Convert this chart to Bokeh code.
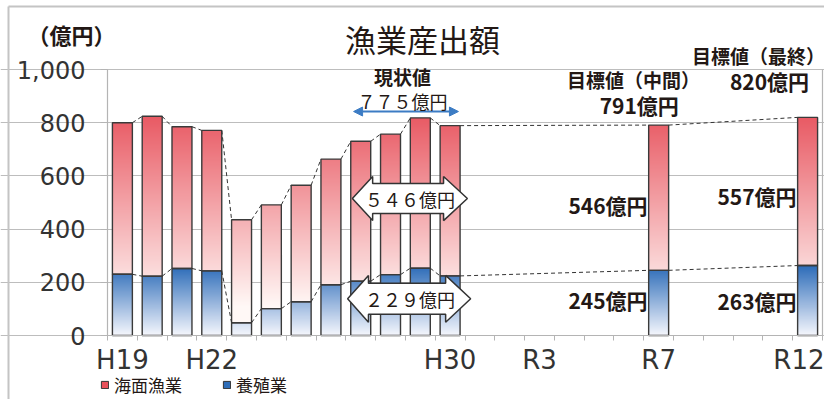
import numpy as np
from bokeh.plotting import figure
from bokeh.models import (Range1d, FixedTicker, NumeralTickFormatter, Label, Arrow,
                          NormalHead, Legend, LegendItem)
from bokeh.embed import file_html
from bokeh.resources import INLINE

# ---------------- data ----------------
categories = [f"H{n}" for n in range(19, 31)] + [f"R{n}" for n in range(1, 13)]
shown_labels = ["H19", "H22", "H30", "R3", "R7", "R12"]
bar_years = ["H19", "H20", "H21", "H22", "H23", "H24", "H25", "H26",
             "H27", "H28", "H29", "H30", "R7", "R12"]
aquaculture = [230, 223, 252, 243, 48, 101, 127, 191, 204, 229, 253, 224, 245, 263]   # 養殖業
marine      = [570, 601, 533, 528, 387, 390, 438, 472, 526, 528, 565, 565, 546, 557]   # 海面漁業
current_total, current_marine, current_aqua = 775, 546, 229
target_mid, target_final = 791, 820

FW = str.maketrans("0123456789", "０１２３４５６７８９")
def fw(n):
    return str(n).translate(FW)

JP = "Noto Sans CJK JP"
LAT = "'DejaVu Sans'"
TXT = "#231815"

RED_TOP = np.array([232, 88, 98])
RED_BOT = np.array([255, 248, 246])
BLUE_TOP = np.array([42, 106, 184])
BLUE_BOT = np.array([246, 247, 253])

def rgba_u32(c):
    c = np.clip(np.round(c), 0, 255).astype(np.uint32)
    return (255 << 24) | (c[2] << 16) | (c[1] << 8) | c[0]

def red_at(v):
    t = min(max((v - 110) / 720.0, 0), 1)
    return rgba_u32(RED_BOT + (RED_TOP - RED_BOT) * t)

def blue_at(v):
    t = min(max(v / 262.0, 0), 1)
    return rgba_u32(BLUE_BOT + (BLUE_TOP - BLUE_BOT) * t)

bw = 0.67
xpos = [categories.index(c) + 0.5 for c in bar_years]
totals = [a + m for a, m in zip(aquaculture, marine)]

# layout geometry (plot area: 715 x 266 px, left 107, bottom 335 in a 824 x 399 canvas)
W, H = 824, 399
FL, FB, FW_PX, FH_PX = 107, 335, 715, 266
n_cat = len(categories)
xs_px = FW_PX / n_cat
ys_px = FH_PX / 1000.0
x_range = Range1d(-FL / xs_px, (W - FL) / xs_px)
y_range = Range1d(-(H - FB) / ys_px, FB / ys_px)

p = figure(width=W, height=H, output_backend="svg", toolbar_location=None,
           x_range=x_range, y_range=y_range,
           min_border_left=0, min_border_right=0, min_border_top=0, min_border_bottom=0)
p.background_fill_color = "white"
p.border_fill_color = "white"
p.outline_line_color = None
p.xgrid.grid_line_color = None
p.ygrid.grid_line_color = "#bdbdbd"
p.ygrid.grid_line_width = 1.2
p.ygrid.bounds = (0, n_cat)

# gradient-filled bar segments (as images)
imgs, ix, iy, idh = [], [], [], []
for x, a, tot in zip(xpos, aquaculture, totals):
    for (y0, y1, fn) in [(0, a, blue_at), (a, tot, red_at)]:
        nrow = max(int(round(y1 - y0)), 2)
        col = np.array([fn(y0 + (y1 - y0) * (k + 0.5) / nrow) for k in range(nrow)],
                       dtype=np.uint32).reshape(nrow, 1)
        imgs.append(col); ix.append(x - bw / 2); iy.append(y0); idh.append(y1 - y0)
p.image_rgba(image=imgs, x=ix, y=iy, dw=[bw] * len(imgs), dh=idh)

p.vbar(x=xpos, width=bw, bottom=0, top=aquaculture, fill_color=None,
       line_color="#3a3a3a", line_width=1.4)
p.vbar(x=xpos, width=bw, bottom=aquaculture, top=totals, fill_color=None,
       line_color="#3a3a3a", line_width=1.4)

# frame right edge and outer box
p.segment(x0=[n_cat], y0=[0], x1=[n_cat], y1=[1000], line_color="#b4b4b4", line_width=1.2)
p.segment(x0=[x_range.start + 8 / xs_px, x_range.start + 8 / xs_px],
          y0=[y_range.start, y_range.end - 6 / ys_px],
          x1=[x_range.start + 8 / xs_px, x_range.end],
          y1=[y_range.end - 6 / ys_px, y_range.end - 6 / ys_px],
          line_color="#c4c4c4", line_width=2)

# dashed connectors
x0 = [xpos[i] + bw / 2 for i in range(len(xpos) - 1)]
x1 = [xpos[i + 1] - bw / 2 for i in range(len(xpos) - 1)]
for lv in (aquaculture, totals):
    p.segment(x0=x0, y0=lv[:-1], x1=x1, y1=lv[1:], line_color="#333333",
              line_width=1, line_dash="4 3")

# block double arrows
def block_arrow(xl, xhl, xhr, xr, yc, bh, hh):
    xs = [xl, xhl, xhl, xhr, xhr, xr, xhr, xhr, xhl, xhl]
    ys = [yc, yc + hh, yc + bh, yc + bh, yc + hh, yc, yc - hh, yc - bh, yc - bh, yc - hh]
    return xs, ys

xs, ys = block_arrow(8.22, 8.90, 11.28, 12.08, 515, 56, 83)
p.patch(xs, ys, fill_color="white", line_color="#333333", line_width=1.5)
xs, ys = block_arrow(8.06, 8.76, 11.35, 12.19, 138, 58, 88)
p.patch(xs, ys, fill_color="white", line_color="#333333", line_width=1.5)

def lab(x, y, text, size, align="center", bold=False, font=JP):
    p.add_layout(Label(x=x, y=y, text=text, text_font=font, text_font_size=f"{size}px",
                       text_align=align, text_baseline="middle", text_color=TXT,
                       text_font_style="bold" if bold else "normal"))

lab(10.15, 515, f"{fw(current_marine)}億円", 18)
lab(10.15, 138, f"{fw(current_aqua)}億円", 18)

# current value blue arrow
p.add_layout(Arrow(start=NormalHead(size=9, fill_color="#3c7cc4", line_color="#3c7cc4"),
                   end=NormalHead(size=9, fill_color="#3c7cc4", line_color="#3c7cc4"),
                   x_start=8.26, y_start=842, x_end=11.78, y_end=842,
                   line_color="#3c7cc4", line_width=2))

lab(10.57, 1116, "漁業産出額", 31)
lab(-1.21, 1132, "（億円）", 22, bold=True)
lab(9.9, 974, "現状値", 19, bold=True)
lab(9.9, 880, f"{fw(current_total)}億円", 18)
lab(17.66, 962, "目標値（中間）", 19, bold=True)
lab(17.85, 866, f"{target_mid}億円", 21, bold=True)
lab(21.85, 1053, "目標値（最終）", 19, bold=True)
lab(22.22, 957, f"{target_final}億円", 21, bold=True)
lab(18.13, 492, f"{marine[-2]}億円", 21, align="right", bold=True)
lab(18.13, 135, f"{aquaculture[-2]}億円", 21, align="right", bold=True)
lab(23.13, 523, f"{marine[-1]}億円", 21, align="right", bold=True)
lab(23.13, 128, f"{aquaculture[-1]}億円", 21, align="right", bold=True)

# axes
p.yaxis.fixed_location = 0
p.yaxis.bounds = (0, 1000)
p.yaxis.ticker = FixedTicker(ticks=[0, 200, 400, 600, 800, 1000])
p.yaxis.formatter = NumeralTickFormatter(format="0,0")
p.yaxis.major_label_text_font = LAT
p.yaxis.major_label_text_font_size = "24px"
p.yaxis.major_label_text_color = "#333333"
p.yaxis.major_tick_out = 7
p.yaxis.major_tick_in = 0
p.yaxis.minor_tick_line_color = None
p.yaxis.axis_line_color = "#b4b4b4"
p.yaxis.axis_line_width = 1.2
p.yaxis.major_tick_line_color = "#b4b4b4"
p.yaxis.major_label_standoff = 15

centers = [categories.index(c) + 0.5 for c in shown_labels]
p.xaxis.fixed_location = 0
p.xaxis.bounds = (0, n_cat)
p.xaxis.ticker = FixedTicker(ticks=centers, minor_ticks=list(range(n_cat + 1)))
p.xaxis.major_label_overrides = {c: l for c, l in zip(centers, shown_labels)}
p.xaxis.major_label_text_font = LAT
p.xaxis.major_label_text_font_size = "26px"
p.xaxis.major_label_text_color = "#333333"
p.xaxis.major_tick_line_color = None
p.xaxis.major_tick_out = 0
p.xaxis.major_tick_in = 0
p.xaxis.minor_tick_out = 5
p.xaxis.minor_tick_in = 0
p.xaxis.minor_tick_line_color = "#b4b4b4"
p.xaxis.axis_line_color = "#b4b4b4"
p.xaxis.axis_line_width = 1.2
p.xaxis.major_label_standoff = 4

# legend (swatch renderers carry a single NaN row so that nothing is drawn in the plot)
nan = [float("nan")]
r_red = p.quad(left=nan, right=nan, top=nan, bottom=nan, fill_color="#e8505a", line_color="#333333")
r_blue = p.quad(left=nan, right=nan, top=nan, bottom=nan, fill_color="#2e6db8", line_color="#333333")
legend = Legend(items=[LegendItem(label="海面漁業", renderers=[r_red]),
                       LegendItem(label="養殖業", renderers=[r_blue])],
                orientation="horizontal", location=(100, 2),
                label_text_font=JP, label_text_font_size="17px", label_text_color=TXT,
                glyph_width=9, glyph_height=9, label_standoff=5, spacing=40,
                padding=0, margin=0, background_fill_alpha=0, border_line_color=None,
                label_height=18)
p.add_layout(legend)

open("out.html", "w").write(file_html(p, INLINE))
